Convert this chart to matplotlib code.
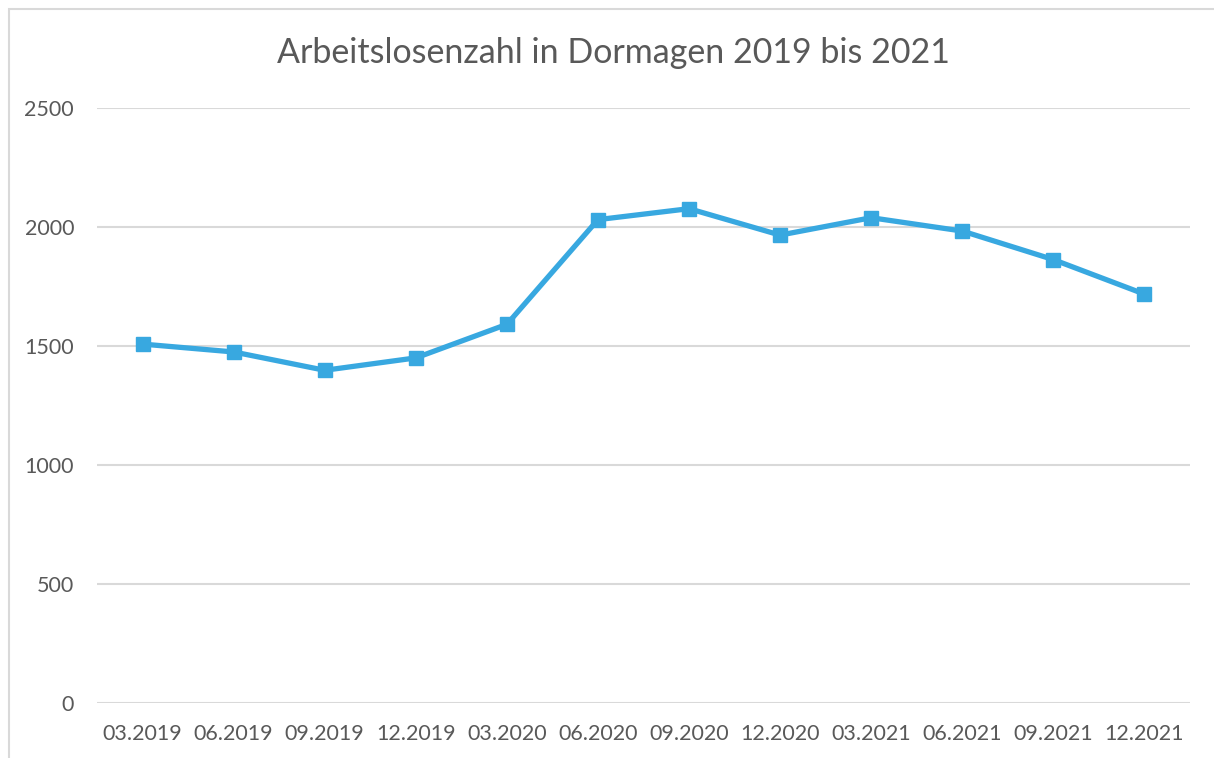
import matplotlib.pyplot as plt
from matplotlib.patches import Rectangle

months = ['03.2019', '06.2019', '09.2019', '12.2019', '03.2020', '06.2020',
          '09.2020', '12.2020', '03.2021', '06.2021', '09.2021', '12.2021']
unemployed = [1508, 1475, 1398, 1450, 1591, 2031, 2077, 1966, 2039, 1983, 1863, 1718]
y_ticks = [0, 500, 1000, 1500, 2000, 2500]

plt.rcParams['font.family'] = ['Lato', 'DejaVu Sans']

fig = plt.figure(figsize=(12.14, 7.58), dpi=100)
ax = fig.add_axes([97 / 1214, 1 - 703 / 758, (1190 - 97) / 1214, (703 - 108) / 758])

# light frame of the chart area (cut at right and bottom like in the source)
fig.patches.append(Rectangle((8.5 / 1214, -0.1), 1.2, 1 - 9.5 / 758 + 0.1,
                             transform=fig.transFigure, fill=False,
                             edgecolor='#D9D9D9', linewidth=1.5))

x = list(range(len(months)))
ax.plot(x, unemployed, color='#38A8E0', linewidth=3.8, marker='s',
        markersize=10, solid_joinstyle='round', zorder=3)

ax.set_xlim(-0.5, len(months) - 0.5)
ax.set_ylim(0, 2500)
ax.set_yticks(y_ticks)
ax.set_xticks(x)
ax.set_xticklabels(months)
ax.grid(axis='y', color='#D9D9D9', linewidth=1.5)
ax.set_axisbelow(True)
for s in ax.spines.values():
    s.set_visible(False)
ax.tick_params(length=0, labelsize=15.5, colors='#595959')
ax.tick_params(axis='y', pad=16.5)
ax.tick_params(axis='x', pad=15)
for lab in ax.get_yticklabels():
    lab.set_horizontalalignment('right')

fig.text(0.505, 1 - 53 / 758, 'Arbeitslosenzahl in Dormagen 2019 bis 2021',
         ha='center', va='center', fontsize=24.5, color='#595959')

fig.savefig('out.png', dpi=100)
